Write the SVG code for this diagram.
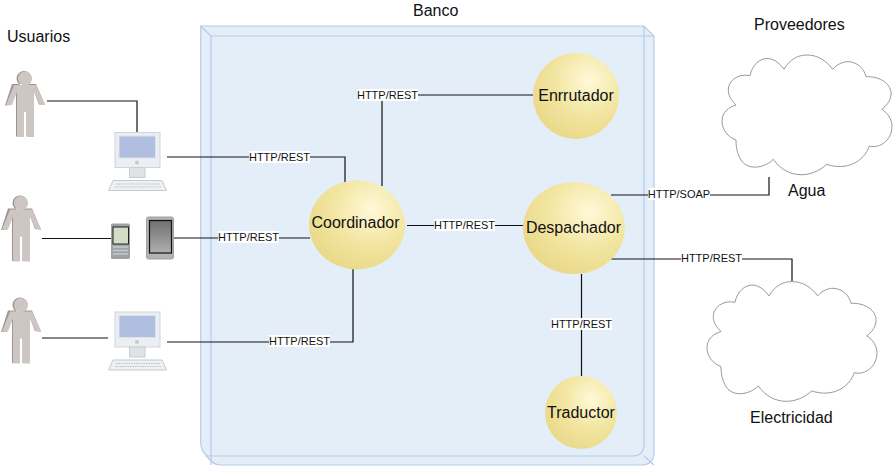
<svg xmlns="http://www.w3.org/2000/svg" xmlns:xlink="http://www.w3.org/1999/xlink" width="893" height="466" viewBox="0 0 893 466">
<style>
text{font-family:"Liberation Sans",Arial,sans-serif;fill:#111}
.t{font-size:16px}
.n{font-size:16px;text-anchor:middle}
.l{font-size:11px;text-anchor:middle}
.lb{fill:#fff}
.c{fill:none;stroke:#111;stroke-width:1.2}
.b{fill:#e4eef9;stroke:#b5cbe9;stroke-width:1.2}
.bl{fill:none;stroke:#b5cbe9;stroke-width:1.2}
.s{stroke:none}
.cl{fill:#fff;stroke:#999;stroke-width:1}
</style>
<defs>
<radialGradient id="sph" cx="0.65" cy="0.32" r="0.75">
<stop offset="0" stop-color="#fff9d8"/><stop offset="0.55" stop-color="#f2e5a0"/><stop offset="1" stop-color="#e9d888"/>
</radialGradient>
<linearGradient id="tab" x1="0" y1="0" x2="0" y2="1"><stop offset="0" stop-color="#6f6f6f"/><stop offset="1" stop-color="#b0b0b0"/></linearGradient>
<g id="person">
<path fill="#9d9593" d="M24 71a7.500 7.500 0 1 0 .1 0z M12 84h24l9 21-6-.5-5-13v45h-7.500v-25h-3v25H16V91l-5 14-6 .5z"/>
<path fill="#cdc6c3" d="M25 71.500a7 7 0 1 1-.1 0z M14 85h22l9 20-5 0-6-13v45h-7v-25h-3v25h-7V92l-5 13-6 0z"/>
</g>
<g id="pc">
<rect x="115" y="132.500" width="45" height="35" fill="#eceff2" stroke="#cfd6dc"/>
<rect x="119" y="136" width="36.500" height="22" fill="#b0bfe0" stroke="#dfe3ea"/>
<circle cx="137" cy="162.500" r="2" fill="#c4c9ce"/>
<rect x="129.500" y="167.500" width="15.500" height="10" fill="#e0e3e6" stroke="#c8cdd2"/>
<path d="M113 180.500h49l4.500 10H108.500z" fill="#eef0f2" stroke="#c4cace"/>
<path d="M116 184h44M115 187h46" stroke="#bcc3c8" stroke-dasharray="1.500 1"/>
</g>
<path id="cloud" d="M750 75.700C752 65 760 58 768 58.500C775 59 780 64 784 69.300C790 59 798 55 807 55C817 55 826 60 832.700 69.300C838 63 845 61.500 848 61.700C857 62 864 68 866 76.700C880 76 892 84 891 95C890 102 886 106 881.700 109.300C888 113 892 120 892 126C892 140 880 149 869.300 146C864 162 846 171 826.700 164.300C812 178 788 180 773.300 159.300C765 168 748 171 741 160C737 153 736 147 736 140C728 137 722 130 722 121C722 112 729 107 736 105C731 100 728 95 728.300 90C728 81 738 73 750 75.700z"/>
</defs>

<g id="banco">
<path class="b" d="M200.700 26H644L654 36V452Q654 465 641 465H221Q214 465 209 459L205 454Q200.700 449 200.700 442z"/>
<path class="bl" d="M211 465V36H654M644 26V444Q644 456 632 456H205M200.700 26L211 36M644 456L654 465"/>
</g>
<text class="t" x="413" y="16">Banco</text>
<text class="t" x="7" y="42">Usuarios</text>
<text class="t" x="754" y="30">Proveedores</text>
<text class="t" x="788" y="196">Agua</text>
<text class="t" x="750" y="423">Electricidad</text>

<g id="connectors">
<path class="c" d="M47 101H137V132"/>
<path class="c" d="M167 157H345V182"/>
<path class="c" d="M42 238.500H111"/>
<path class="c" d="M174 238H310"/>
<path class="c" d="M42 338H108"/>
<path class="c" d="M167 342H353V260"/>
<path class="c" d="M382 186V95H533"/>
<path class="c" d="M407 225.500H524"/>
<path class="c" d="M611 195H769V177"/>
<path class="c" d="M611 259H792V281"/>
<path class="c" d="M581.500 274V377"/>
<g>
<rect class="lb" x="249" y="151" width="61" height="12"/><text class="l" x="279.500" y="161">HTTP/REST</text>
<rect class="lb" x="218" y="231" width="61" height="12"/><text class="l" x="248.500" y="241">HTTP/REST</text>
<rect class="lb" x="269" y="335" width="61" height="12"/><text class="l" x="299.500" y="345">HTTP/REST</text>
<rect class="lb" x="357" y="89" width="61" height="12"/><text class="l" x="387.500" y="99">HTTP/REST</text>
<rect class="lb" x="434" y="219" width="61" height="12"/><text class="l" x="464.500" y="229">HTTP/REST</text>
<rect class="lb" x="648" y="188" width="62" height="12"/><text class="l" x="679" y="198">HTTP/SOAP</text>
<rect class="lb" x="681" y="252" width="61" height="12"/><text class="l" x="711.500" y="262">HTTP/REST</text>
<rect class="lb" x="551" y="318" width="61" height="12"/><text class="l" x="581.500" y="328">HTTP/REST</text>
</g>
</g>

<g id="usuario1"><use xlink:href="#person" href="#person"/></g>
<g id="usuario2"><use xlink:href="#person" href="#person" transform="translate(-4 124.500)"/></g>
<g id="usuario3"><use xlink:href="#person" href="#person" transform="translate(-4 226.500)"/></g>
<g id="pc1"><use xlink:href="#pc" href="#pc"/></g>
<g id="pc2"><use xlink:href="#pc" href="#pc" transform="translate(0 179.500)"/></g>
<g id="movil">
<rect x="111" y="223.500" width="19" height="35.500" rx="1.500" fill="#9da3a4"/>
<rect x="113" y="227" width="15.500" height="17" fill="#d5dbc6" stroke="#222" stroke-width="1"/>
<path d="M113 247h15M113 250.500h15M113 254h15" stroke="#c5cacb" stroke-width="1.600"/>
</g>
<g id="tablet">
<rect x="146.500" y="217" width="27" height="42" rx="2" fill="#b3b3b3" stroke="#a0a0a0"/>
<rect x="149.500" y="220.500" width="22" height="32.500" fill="url(#tab)" stroke="#111" stroke-width="1.200"/>
</g>

<g id="agua"><use xlink:href="#cloud" href="#cloud" class="cl"/></g>
<g id="electricidad"><use xlink:href="#cloud" href="#cloud" class="cl" transform="translate(-15 226.600)"/></g>

<g id="coordinador"><ellipse class="s" cx="357" cy="225" rx="48" ry="44.500" fill="url(#sph)"/><text class="n" x="355.500" y="228">Coordinador</text></g>
<g id="enrutador"><ellipse class="s" cx="576" cy="96" rx="43" ry="43" fill="url(#sph)"/><text class="n" x="576" y="101">Enrrutador</text></g>
<g id="despachador"><ellipse class="s" cx="574" cy="228" rx="51" ry="46" fill="url(#sph)"/><text class="n" x="573.500" y="233">Despachador</text></g>
<g id="traductor"><ellipse class="s" cx="581" cy="412.500" rx="36" ry="36.500" fill="url(#sph)"/><text class="n" x="581" y="418">Traductor</text></g>
</svg>
